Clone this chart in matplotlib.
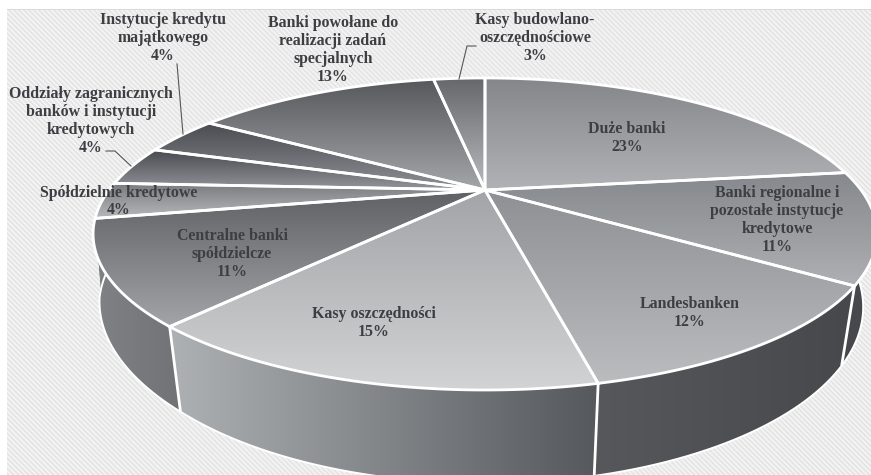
import numpy as np
import matplotlib
matplotlib.use("Agg")
import matplotlib.pyplot as plt
from matplotlib.patches import Polygon
from matplotlib.colors import to_rgb

labels = ["Duże banki", "Banki regionalne i\npozostałe instytucje\nkredytowe", "Landesbanken",
          "Kasy oszczędności", "Centralne banki\nspółdzielcze", "Spółdzielnie kredytowe",
          "Oddziały zagranicznych\nbanków i instytucji\nkredytowych", "Instytucje kredytu\nmajątkowego",
          "Banki powołane do\nrealizacji zadań\nspecjalnych", "Kasy budowlano-\noszczędnościowe"]
values = [23, 11, 12, 15, 11, 4, 4, 4, 13, 3]
# slice sizes as measured on the picture (the printed labels are rounded)
shares = [23, 11.5, 12, 15, 10.5, 3.75, 4.15, 4.1, 13.2, 2.8]

top_colors = ["#85868a", "#85888c", "#8e9094", "#a2a4a7", "#606165", "#77797d", "#48494e", "#4b4c51", "#57585c", "#66676b"]
bot_colors = ["#b0b2b5", "#aeb0b3", "#babcbe", "#d2d3d4", "#a2a4a7", "#b5b7b9", "#94959a", "#8f9095", "#a4a6a9", "#b8babd"]
side_left = ["#47484c", "#47484c", "#56585b", "#aeb1b4", "#818286", "#777", "#777", "#777", "#777", "#777"]
side_right = ["#47484c", "#47484c", "#47484c", "#55585c", "#717276", "#777", "#777", "#777", "#777", "#777"]

label_xy = [(627, 138), (777, 220), (690, 313), (374, 323), (232, 254), (119, 201.5),
            (91, 121), (163, 38), (333, 50), (535, 38)]
leaders = [((177, 64), (183, 134)), ((106, 151), (115, 151), (131, 166)), ((476, 46), (467, 46), (459, 79))]

W, H = 871, 475
CX, CY, A, B, K = 485, 190, 376, 143.6, 0.282


def top_pts(theta):
    u, v = np.sin(theta), np.cos(theta)
    w = 1 + K * v
    return CX + A * u / w, CY - B * v / w


def bot_pts(x, y):
    x, y = np.asarray(x, float), np.asarray(y, float)
    s = np.where(x < CX, 0.965 + 0.02 * np.clip((330 - y) / 105, 0, 1), 0.965)
    return CX + (x - CX) * s, y * 1.13 + 42.7


fig = plt.figure(figsize=(W / 100, H / 100), dpi=100)
ax = fig.add_axes([0, 0, 1, 1])
ax.set_xlim(0, W)
ax.set_ylim(H, 0)
ax.axis("off")

# striped background
yy, xx = np.mgrid[0:H, 0:W]
bg = 236 + 10 * np.sin(2 * np.pi * (xx - yy) / 5.0)
bg[:9, :] = 255
bg[:, :7] = 255
bg[9:10, 7:] = 218
ax.imshow(bg, cmap="gray", vmin=0, vmax=255, extent=(0, W, H, 0), aspect="auto", zorder=0, interpolation="bilinear")


def grad_patch(poly, c0, c1, vertical=True, z=1):
    p = Polygon(poly, closed=True, transform=ax.transData, fc="none", ec="none")
    ax.add_patch(p)
    c0, c1 = np.array(to_rgb(c0)), np.array(to_rgb(c1))
    t = np.linspace(0, 1, 128)[:, None]
    col = c0 * (1 - t) + c1 * t
    arr = col[:, None, :] if vertical else col[None, :, :]
    x0, y0 = poly.min(axis=0)
    x1, y1 = poly.max(axis=0)
    im = ax.imshow(arr, extent=(x0, x1, y1, y0), aspect="auto", zorder=z, interpolation="bilinear")
    im.set_clip_path(p)
    ax.set_xlim(0, W)
    ax.set_ylim(H, 0)


fr = np.cumsum([0] + shares) / sum(shares)
angles = fr * 2 * np.pi

order = [2, 1, 0, 9, 8, 7, 6, 5, 4, 3]
for i in order:
    th = np.linspace(angles[i], angles[i + 1], 80)
    x, y = top_pts(th)
    bx, by = bot_pts(x, y)
    poly = np.column_stack([np.r_[x, bx[::-1]], np.r_[y, by[::-1]]])
    grad_patch(poly, side_left[i], side_right[i], vertical=False, z=1 + 0.01 * order.index(i))

th_all = np.linspace(angles[1] - 0.3, angles[6], 300)
xa, ya = top_pts(th_all)
bxa, bya = bot_pts(xa, ya)
ax.plot(bxa, bya, color="white", lw=1.4, zorder=1.5)
for i in [2, 3, 4]:
    x, y = top_pts(angles[i])
    bx, by = bot_pts(x, y)
    ax.plot([x, bx], [y, by], color="white", lw=2.0, zorder=1.6, solid_capstyle="butt")

for i in range(len(shares)):
    th = np.linspace(angles[i], angles[i + 1], 80)
    x, y = top_pts(th)
    poly = np.column_stack([np.r_[CX, x], np.r_[CY, y]])
    grad_patch(poly, top_colors[i], bot_colors[i], z=2)
    ax.add_patch(Polygon(poly, closed=True, fc="none", ec="white", lw=2.0, zorder=2.5, joinstyle="miter"))

for pts in leaders:
    p = np.array(pts)
    ax.plot(p[:, 0], p[:, 1], color="#55565a", lw=0.8, zorder=3)

for lab, v, (lx, ly) in zip(labels, values, label_xy):
    ax.text(lx, ly, f"{lab}\n{v}%", ha="center", va="center", multialignment="center",
            family="Liberation Serif", fontweight="bold", fontsize=11.4, color="#3d3e42",
            linespacing=1.15, zorder=4)

fig.savefig("out.png", dpi=100)
